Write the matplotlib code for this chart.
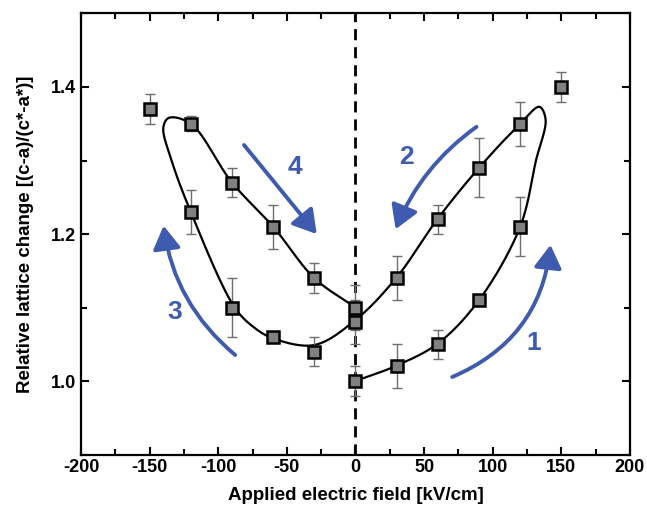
import numpy as np
import matplotlib.pyplot as plt
from matplotlib.patches import FancyArrowPatch
from matplotlib.ticker import MultipleLocator

plt.rcParams['font.family'] = ['Liberation Sans', 'DejaVu Sans']
plt.rcParams['font.weight'] = 'bold'
plt.rcParams['axes.unicode_minus'] = False

# measured points
field = [0, 30, 60, 90, 120, 150, 120, 90, 60, 30, 0,
         -30, -60, -90, -120, -150, -120, -90, -60, -30, 0]
lattice = [1.00, 1.02, 1.05, 1.11, 1.21, 1.40, 1.35, 1.29, 1.22, 1.14, 1.08,
           1.04, 1.06, 1.10, 1.23, 1.37, 1.35, 1.27, 1.21, 1.14, 1.10]
err = [0.02, 0.03, 0.02, 0.005, 0.04, 0.02, 0.03, 0.04, 0.02, 0.03, 0.03,
       0.02, 0.005, 0.04, 0.03, 0.02, 0.01, 0.02, 0.03, 0.02, 0.03]

# guide curve knots (hysteresis loop)
curve_x = [0, 30, 60, 90, 120, 131.5, 138.5, 134, 120, 90, 60, 30, 0,
           -30, -60, -74, -88, -120, -134, -140, -136, -120,
           -90, -60, -30, 0]
curve_y = [1.000, 1.021, 1.051, 1.110, 1.210, 1.300, 1.356, 1.373, 1.350,
           1.290, 1.221, 1.141, 1.083, 1.049, 1.058, 1.073, 1.100, 1.230, 1.300,
           1.345, 1.358, 1.350, 1.270, 1.210, 1.140, 1.100]


def catmull_rom(xs, ys, n=30, sx=1.37, sy=735.0):
    P = np.column_stack([np.asarray(xs) * sx, np.asarray(ys) * sy])
    P = np.vstack([2 * P[0] - P[1], P, 2 * P[-1] - P[-2]])
    out = []
    for i in range(1, len(P) - 2):
        p0, p1, p2, p3 = P[i - 1], P[i], P[i + 1], P[i + 2]
        t0 = 0.0
        t1 = t0 + np.linalg.norm(p1 - p0) ** 0.5
        t2 = t1 + np.linalg.norm(p2 - p1) ** 0.5
        t3 = t2 + np.linalg.norm(p3 - p2) ** 0.5
        t = np.linspace(t1, t2, n)[:, None]
        a1 = (t1 - t) / (t1 - t0) * p0 + (t - t0) / (t1 - t0) * p1
        a2 = (t2 - t) / (t2 - t1) * p1 + (t - t1) / (t2 - t1) * p2
        a3 = (t3 - t) / (t3 - t2) * p2 + (t - t2) / (t3 - t2) * p3
        b1 = (t2 - t) / (t2 - t0) * a1 + (t - t0) / (t2 - t0) * a2
        b2 = (t3 - t) / (t3 - t1) * a2 + (t - t1) / (t3 - t1) * a3
        c = (t2 - t) / (t2 - t1) * b1 + (t - t1) / (t2 - t1) * b2
        out.append(c)
    C = np.vstack(out)
    return C[:, 0] / sx, C[:, 1] / sy


# arrows: (tail, head, rad, label, label position)
arrows = [((68.6, 1.004), (142.3, 1.189), 0.3, '1', (130, 1.052)),
          ((89.8, 1.348), (28.5, 1.203), 0.15, '2', (37.2, 1.305)),
          ((-86.1, 1.033), (-140.1, 1.215), -0.2, '3', (-131.4, 1.094)),
          ((-82.5, 1.324), (-27.0, 1.197), 0.0, '4', (-43.8, 1.291))]

fig = plt.figure(figsize=(6.47, 5.21), dpi=100)
ax = fig.add_axes([0.1252, 0.1276, 0.8485, 0.8465])

ax.axvline(0, color='black', lw=2, ls=(0, (4, 2.5)), zorder=1)

cx, cy = catmull_rom(curve_x, curve_y)
ax.plot(cx, cy, color='black', lw=1.6, zorder=2)

ax.errorbar(field, lattice, yerr=err, fmt='none', ecolor='#6e6e6e',
            elinewidth=1, capsize=3.5, capthick=1, zorder=3)
ax.plot(field, lattice, 's', ms=9, mfc='#808080', mec='black', mew=1.8,
        ls='none', zorder=4)

blue = '#3F5BB0'
for tail, head, rad, lab, lpos in arrows:
    arr = FancyArrowPatch(tail, head, connectionstyle=f'arc3,rad={rad}',
                          arrowstyle='-|>,head_length=1.0,head_width=0.6',
                          mutation_scale=14, color=blue, lw=2.8, zorder=5)
    ax.add_patch(arr)
    ax.text(lpos[0], lpos[1], lab, color=blue, fontsize=19, fontweight='bold',
            ha='center', va='center')

ax.set_xlim(-200, 200)
ax.set_ylim(0.9, 1.5)
ax.xaxis.set_major_locator(MultipleLocator(50))
ax.xaxis.set_minor_locator(MultipleLocator(25))
ax.yaxis.set_major_locator(MultipleLocator(0.2))
ax.yaxis.set_minor_locator(MultipleLocator(0.1))
ax.tick_params(which='both', direction='in', top=True, right=True, width=1.5,
               labelsize=13)
ax.tick_params(which='major', length=6)
ax.tick_params(which='minor', length=4)
for s in ax.spines.values():
    s.set_linewidth(1.6)

ax.set_xlabel('Applied electric field [kV/cm]', fontsize=13.5, fontweight='bold',
              labelpad=8)
ax.set_ylabel('Relative lattice change [(c-a)/(c*-a*)]', fontsize=13.5,
              fontweight='bold', labelpad=12)

fig.savefig('out.png', dpi=100)
